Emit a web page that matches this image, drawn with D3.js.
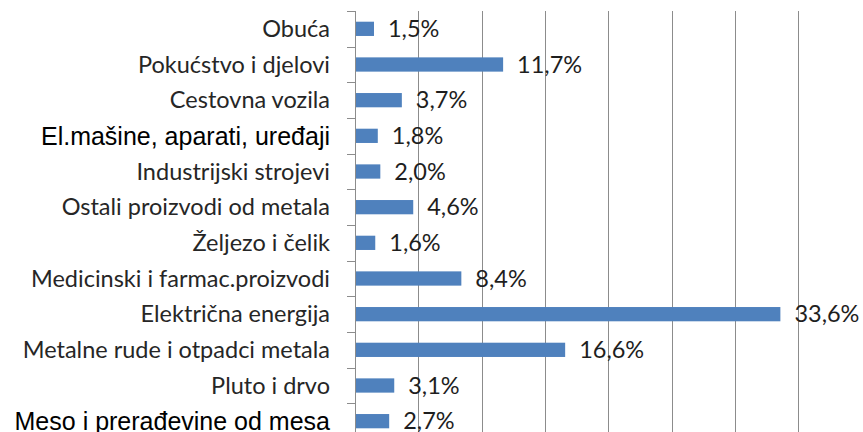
<!DOCTYPE html>
<html>
<head>
<meta charset="utf-8">
<script src="https://cdn.jsdelivr.net/npm/d3@7"></script>
<style>
  body { margin: 0; background: #fff; }
</style>
</head>
<body>
<svg id="chart"></svg>
<script>
const categories = [
    'Obuća',
    'Pokućstvo i djelovi',
    'Cestovna vozila',
    'El.mašine, aparati, uređaji',
    'Industrijski strojevi',
    'Ostali proizvodi od metala',
    'Željezo i čelik',
    'Medicinski i farmac.proizvodi',
    'Električna energija',
    'Metalne rude i otpadci metala',
    'Pluto i drvo',
    'Meso i prerađevine od mesa'
];
const values = [1.5, 11.7, 3.7, 1.8, 2.0, 4.6, 1.6, 8.4, 33.6, 16.6, 3.1, 2.7];
const gridTicks = [5, 10, 15, 20, 25, 30, 35];

class BarChart {
    constructor (config) {
        this.config = {
            parent: config.parent,
            width: config.width || 863,
            height: config.height || 432,
            margin: config.margin || {top: 11, right: 2, bottom: -7, left: 355}
        };
        this.init();
    }

    init() {
        let self = this;
        self.svg = d3.select(self.config.parent)
            .attr('width', self.config.width)
            .attr('height', self.config.height);

        self.chart = self.svg.append('g')
            .attr('transform', `translate(${self.config.margin.left}, ${self.config.margin.top})`);

        self.inner_height = self.config.height - self.config.margin.top - self.config.margin.bottom;

        // 12.66 px per percent, domain cut off at the right edge
        self.xscale = d3.scaleLinear()
            .domain([0, 40])
            .range([0, 506.4]);

        self.yscale = d3.scaleBand()
            .domain(categories)
            .range([0, self.inner_height])
            .paddingInner(0.6)
            .paddingOuter(0.3);
    }

    render() {
        let self = this;
        const data = categories.map((c, i) => ({cat: c, val: values[i]}));
        const step = self.yscale.step();
        const gridColor = '#8c8c8c';

        // vertical gridlines
        self.chart.selectAll('.grid')
            .data(gridTicks)
            .join('line')
            .attr('class', 'grid')
            .attr('x1', d => Math.round(self.xscale(d)) + 0.5)
            .attr('x2', d => Math.round(self.xscale(d)) + 0.5)
            .attr('y1', 0)
            .attr('y2', self.inner_height)
            .attr('stroke', gridColor)
            .attr('stroke-width', 1);

        // category axis line and tick marks between bands
        self.chart.append('line')
            .attr('x1', 0.5).attr('x2', 0.5)
            .attr('y1', 0).attr('y2', self.inner_height)
            .attr('stroke', gridColor);

        const bounds = d3.range(categories.length + 1).map(i => i * step);
        self.chart.selectAll('.tick-mark')
            .data(bounds)
            .join('line')
            .attr('class', 'tick-mark')
            .attr('x1', -8).attr('x2', 0)
            .attr('y1', d => Math.round(d) + 0.5)
            .attr('y2', d => Math.round(d) + 0.5)
            .attr('stroke', gridColor);

        // bars
        self.chart.selectAll('rect')
            .data(data)
            .join('rect')
            .attr('x', 1)
            .attr('y', d => self.yscale(d.cat))
            .attr('width', d => self.xscale(d.val) - 1)
            .attr('height', self.yscale.bandwidth())
            .attr('fill', '#4f81bd');

        // value labels
        const fmt = v => d3.format('.1f')(v).replace('.', ',') + '%';
        self.chart.selectAll('.value')
            .data(data)
            .join('text')
            .attr('class', 'value')
            .attr('x', d => self.xscale(d.val) + 14)
            .attr('y', d => self.yscale(d.cat) + self.yscale.bandwidth() / 2)
            .attr('dy', '0.35em')
            .style('font-family', 'Lato, sans-serif')
            .style('font-size', '23.5px')
            .attr('fill', '#1e1e1e')
            .text(d => fmt(d.val));

        // category labels; two of them were set in another typeface
        const arialLabels = ['El.mašine, aparati, uređaji', 'Meso i prerađevine od mesa'];
        self.chart.selectAll('.cat')
            .data(data)
            .join('text')
            .attr('class', 'cat')
            .attr('x', -25)
            .attr('y', d => self.yscale(d.cat) + self.yscale.bandwidth() / 2)
            .attr('dy', '0.35em')
            .attr('text-anchor', 'end')
            .style('font-family', d => arialLabels.includes(d.cat) ? '"Liberation Sans", Arial, sans-serif' : 'Lato, sans-serif')
            .style('font-size', d => arialLabels.includes(d.cat) ? '25px' : '23.5px')
            .attr('fill', d => arialLabels.includes(d.cat) ? '#000' : '#262626')
            .text(d => d.cat);
    }
}

const chart = new BarChart({parent: '#chart', width: 863, height: 432});
chart.render();
</script>
</body>
</html>
